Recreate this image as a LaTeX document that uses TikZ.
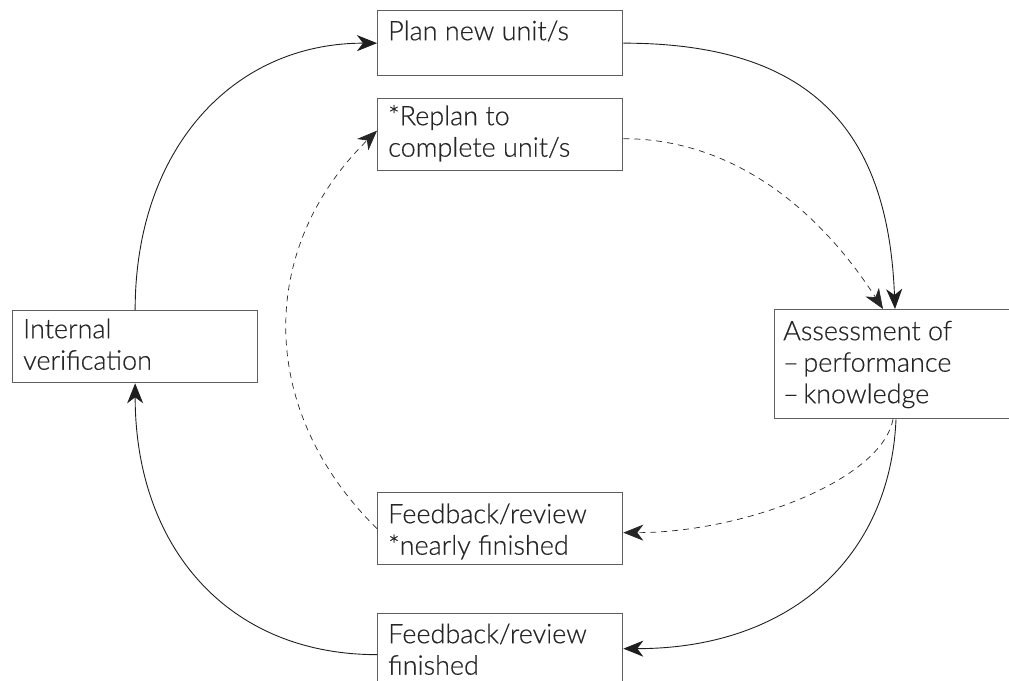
\documentclass[tikz,border=0pt]{standalone}
\usepackage{fontspec}
\setmainfont{Lato}[UprightFont={* Light}, UprightFeatures={FakeBold=0.5}]
\usetikzlibrary{arrows.meta}
\definecolor{ink}{HTML}{262626}
\definecolor{frame}{HTML}{5E5E5E}
\definecolor{line}{HTML}{1E1E1E}
\newcommand\firstline{\rule{0pt}{22pt}}
\begin{document}
\begin{tikzpicture}[x=1pt,y=-1pt,
  stepbox/.style={draw=frame, line width=1.3pt, inner sep=0pt, anchor=north west,
    minimum width=245pt, minimum height=72pt},
  boxtext/.style={anchor=north west, inner sep=0pt, align=left, text=ink,
    font=\fontsize{27}{31.5}\selectfont},
  flow/.style={draw=line, line width=0.9pt,
    -{Stealth[length=20pt,width=16pt,inset=6pt]}},
  maybe/.style={flow, draw=ink, line width=0.7pt, dash pattern=on 6pt off 5pt}]
\useasboundingbox (0,0) rectangle (1009,680);

% boxes
\node[stepbox, minimum height=65pt] (plan) at (377,10) {};
\node[stepbox] (replan) at (377,98) {};
\node[stepbox] (internal) at (12,310) {};
\node[stepbox, minimum height=109pt] (assess) at (774,309) {};
\node[stepbox] (feedn) at (377,492) {};
\node[stepbox] (feedf) at (377,613) {};

% box texts
\node[boxtext] (plan-t) at (388,18) {\firstline Plan new unit/s};
\node[boxtext] (replan-t) at (388,103) {\firstline *Replan to\\complete unit/s};
\node[boxtext] (internal-t) at (23,316) {\firstline Internal\\verification};
\node[boxtext] (assess-t) at (783,318) {\firstline Assessment of\\–\,performance\\–\,knowledge};
\node[boxtext] (feedn-t) at (388,501) {\firstline Feedback/review\\*nearly finished};
\node[boxtext] (feedf-t) at (388,621) {\firstline Feedback/review\\finished};

% main cycle
\draw[flow] (internal.north) .. controls +(0,-160) and +(-145,0) .. (plan.west);
\draw[flow] (plan.east) .. controls +(186,0) and +(-7,-181) .. ([xshift=121pt]assess.north west);
\draw[flow] ([xshift=122pt]assess.south west) .. controls +(-6,140) and +(165,0) .. ([yshift=1pt]feedf.east);
\draw[flow] ([yshift=-5pt]feedf.west) .. controls +(-150,0) and +(0,163) .. (internal.south);

% replanning loop
\draw[maybe] ([yshift=-4pt]replan.east) .. controls +(98,0) and +(-73,-113) .. ([xshift=109pt]assess.north west);
\draw[maybe] ([xshift=119pt]assess.south west) .. controls +(-12,62) and +(118,0) .. ([yshift=-4pt]feedn.east);
\draw[maybe] (feedn.west) .. controls +(-120,-118) and +(-120,118) .. ([yshift=4pt]replan.west);
\end{tikzpicture}
\end{document}
